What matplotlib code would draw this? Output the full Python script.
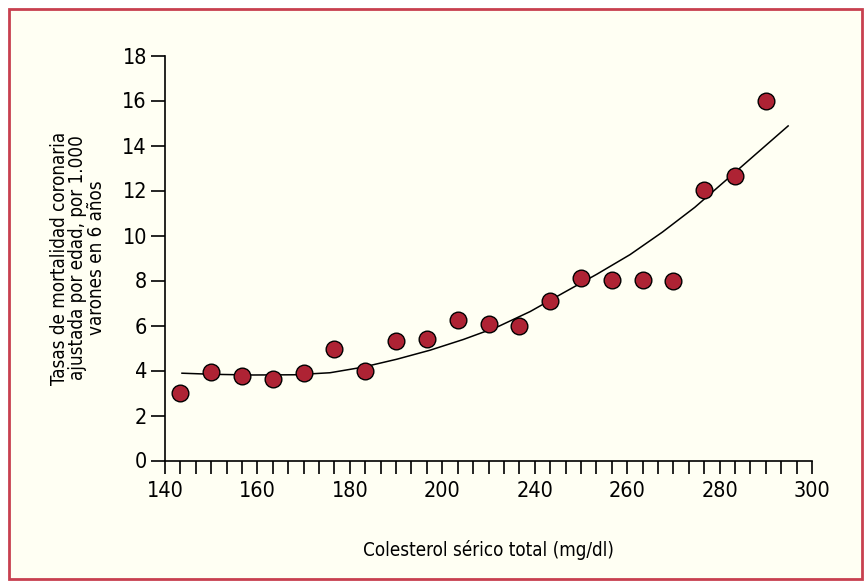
import numpy as np
import matplotlib
matplotlib.use('Agg')
import matplotlib.pyplot as plt
from matplotlib.patches import Rectangle

plt.rcParams['font.family'] = ['DejaVu Sans']
plt.rcParams['font.stretch'] = 'condensed'

# puntos: colesterol (escala del eje) y tasa de mortalidad
colesterol = [143.8, 151.4, 159.0, 166.7, 174.3, 181.9, 189.5, 197.1, 204.8, 212.4,
              220.0, 227.6, 235.2, 242.9, 250.5, 258.1, 265.7, 273.3, 281.0, 288.6]
tasa = [3.0, 3.92, 3.77, 3.61, 3.88, 4.94, 3.96, 5.32, 5.4, 6.26,
        6.05, 5.98, 7.08, 8.12, 8.02, 8.02, 7.96, 12.04, 12.66, 15.98]

# curva ajustada
curva_x = [144.2, 152.0, 161.8, 172.0, 180.8, 189.0, 197.3, 205.5, 213.8, 222.0,
           230.3, 238.5, 246.8, 255.0, 263.0, 271.0, 279.0, 286.0, 294.1]
curva_y = [3.88, 3.83, 3.80, 3.81, 3.90, 4.15, 4.50, 4.90, 5.38, 5.92,
           6.62, 7.45, 8.28, 9.15, 10.15, 11.25, 12.5, 13.6, 14.87]

xtick_labels = ['140', '160', '180', '200', '240', '260', '280', '300']
yticks = [0, 2, 4, 6, 8, 10, 12, 14, 16, 18]

crema = '#FFFFF3'
fig = plt.figure(figsize=(8.64, 5.83), dpi=100, facecolor='white')
fig.patches.append(Rectangle((9 / 864, 4 / 583), 853 / 864, 570 / 583, transform=fig.transFigure,
                             facecolor=crema, edgecolor='#C8404F', linewidth=2, zorder=-1))

ax = fig.add_axes([165 / 864, 1 - 460.5 / 583, 647 / 864, 405 / 583])
ax.set_facecolor('none')

ax.plot(curva_x, curva_y, color='black', linewidth=1.1, zorder=2)
ax.plot(colesterol, tasa, 'o', markersize=12, markerfacecolor='#AE2334',
        markeredgecolor='black', markeredgewidth=1, linestyle='none', zorder=3)

ax.set_xlim(140, 300)
ax.set_ylim(0, 18)
ax.set_xticks(np.linspace(140, 300, len(xtick_labels)))
ax.set_xticklabels(xtick_labels)
ax.set_xticks(np.linspace(140, 300, 43), minor=True)
ax.set_yticks(yticks)

for s in ['top', 'right']:
    ax.spines[s].set_visible(False)
for s in ['left', 'bottom']:
    ax.spines[s].set_linewidth(1.2)

ax.tick_params(axis='x', which='both', length=9, width=1.2, direction='out', labelsize=15.5, pad=6)
ax.tick_params(axis='y', length=10, width=1.2, direction='out', labelsize=15.5, pad=3)

ax.set_xlabel('Colesterol sérico total (mg/dl)', fontsize=13.5, labelpad=28)
ax.set_ylabel('Tasas de mortalidad coronaria\najustada por edad, por 1.000\nvarones en 6 años',
              fontsize=13.5, labelpad=12, linespacing=0.95)

fig.savefig('out.png', dpi=100, facecolor='white')
